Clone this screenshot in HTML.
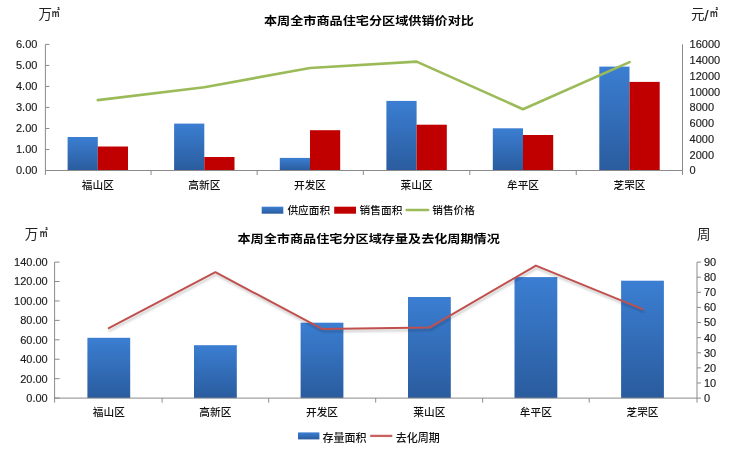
<!DOCTYPE html>
<html><head><meta charset="utf-8">
<style>
html,body{margin:0;padding:0;background:#fff;width:740px;height:450px;overflow:hidden}
svg{display:block;will-change:transform}
.n{font-family:"Liberation Sans", Arial, sans-serif;font-size:11px;fill:#1a1a1a;stroke:#1a1a1a;stroke-width:0.15px}
.c{font-family:"Liberation Sans", "Noto Sans CJK SC", sans-serif;font-size:10.7px;font-weight:500;fill:#111}
.t{font-family:"Liberation Sans", "Noto Sans CJK SC", sans-serif;font-size:13px;font-weight:700;fill:#000}
.u{font-family:"Liberation Sans", "Noto Sans CJK SC", sans-serif;font-size:13.5px;fill:#222}
.m{font-family:"Liberation Sans","Noto Sans CJK KR",sans-serif;font-size:11px;font-weight:700;fill:#333}
</style></head><body>
<svg width="740" height="450" viewBox="0 0 740 450">
<defs>
<linearGradient id="gb" x1="0" y1="0" x2="0" y2="1">
<stop offset="0" stop-color="#3b7ed2"/>
<stop offset="1" stop-color="#2a5c9e"/>
</linearGradient>
<filter id="sh" x="-5%" y="-20%" width="110%" height="140%"><feGaussianBlur stdDeviation="0.9"/></filter>
</defs>
<text transform="translate(264.0,24.9) scale(1.01,0.91)" class="t">本周全市商品住宅分区域供销价对比</text>
<text x="38.5" y="19" class="u">万</text><text transform="translate(51.6,17.2) scale(0.75,1.05)" class="m">㎡</text>
<text x="691" y="19" class="u">元</text><text x="704.2" y="20.5" class="n" style="font-size:15.5px;stroke-width:0.1px">/</text><text transform="translate(709.8,17.2) scale(0.75,1.05)" class="m">㎡</text>
<rect x="67.60" y="137.00" width="30.20" height="33.50" fill="url(#gb)"/>
<rect x="97.80" y="146.50" width="30.20" height="24.00" fill="#c00000"/>
<rect x="174.10" y="123.60" width="30.20" height="46.90" fill="url(#gb)"/>
<rect x="204.30" y="157.00" width="30.20" height="13.50" fill="#c00000"/>
<rect x="279.80" y="157.90" width="30.20" height="12.60" fill="url(#gb)"/>
<rect x="310.00" y="130.20" width="30.20" height="40.30" fill="#c00000"/>
<rect x="386.40" y="100.90" width="30.20" height="69.60" fill="url(#gb)"/>
<rect x="416.60" y="124.70" width="30.20" height="45.80" fill="#c00000"/>
<rect x="492.80" y="128.30" width="30.20" height="42.20" fill="url(#gb)"/>
<rect x="523.00" y="135.00" width="30.20" height="35.50" fill="#c00000"/>
<rect x="599.30" y="66.60" width="30.20" height="103.90" fill="url(#gb)"/>
<rect x="629.50" y="81.90" width="30.20" height="88.60" fill="#c00000"/>
<path d="M45.4 44.4V175.0M682.5 44.4V175.0M45.4 170.5H682.5" stroke="#8a8a8a" stroke-width="1" fill="none"/>
<text x="37.4" y="174.40" text-anchor="end" class="n">0.00</text>
<text x="37.4" y="153.38" text-anchor="end" class="n">1.00</text>
<text x="37.4" y="132.37" text-anchor="end" class="n">2.00</text>
<text x="37.4" y="111.35" text-anchor="end" class="n">3.00</text>
<text x="37.4" y="90.33" text-anchor="end" class="n">4.00</text>
<text x="37.4" y="69.32" text-anchor="end" class="n">5.00</text>
<text x="37.4" y="48.30" text-anchor="end" class="n">6.00</text>
<path d="M45.4 170.50h4M45.4 149.48h4M45.4 128.47h4M45.4 107.45h4M45.4 86.43h4M45.4 65.42h4M45.4 44.40h4M151.05 170.5v4.5M257.15 170.5v4.5M363.30 170.5v4.5M469.80 170.5v4.5M576.25 170.5v4.5" stroke="#8a8a8a" stroke-width="1" fill="none"/>
<text x="689.6" y="174.40" class="n">0</text>
<text x="689.6" y="158.64" class="n">2000</text>
<text x="689.6" y="142.88" class="n">4000</text>
<text x="689.6" y="127.11" class="n">6000</text>
<text x="689.6" y="111.35" class="n">8000</text>
<text x="689.6" y="95.59" class="n">10000</text>
<text x="689.6" y="79.83" class="n">12000</text>
<text x="689.6" y="64.06" class="n">14000</text>
<text x="689.6" y="48.30" class="n">16000</text>
<text x="97.80" y="188.6" text-anchor="middle" class="c">福山区</text>
<text x="204.30" y="188.6" text-anchor="middle" class="c">高新区</text>
<text x="310.00" y="188.6" text-anchor="middle" class="c">开发区</text>
<text x="416.60" y="188.6" text-anchor="middle" class="c">莱山区</text>
<text x="523.00" y="188.6" text-anchor="middle" class="c">牟平区</text>
<text x="629.50" y="188.6" text-anchor="middle" class="c">芝罘区</text>
<polyline points="97.80,100.10 204.30,87.20 310.00,68.00 416.60,61.60 523.00,109.20 629.50,62.10" fill="none" stroke="#9bbb59" stroke-width="2.6" stroke-linejoin="round" stroke-linecap="round"/>
<rect x="261.7" y="206.7" width="21.6" height="7" fill="url(#gb)"/>
<text x="287.4" y="214" class="c">供应面积</text>
<rect x="334.2" y="206.7" width="21.8" height="7" fill="#c00000"/>
<text x="359.6" y="214" class="c">销售面积</text>
<line x1="406.7" y1="210.05" x2="428.1" y2="210.05" stroke="#9bbb59" stroke-width="2.6" stroke-linecap="round"/>
<text x="432.2" y="214" class="c">销售价格</text>

<text transform="translate(237.5,243.4) scale(1.01,0.91)" class="t">本周全市商品住宅分区域存量及去化周期情况</text>
<text x="24.8" y="239" class="u">万</text><text transform="translate(39.4,237.2) scale(0.75,1.05)" class="m">㎡</text>
<text x="697" y="239" class="u">周</text>
<rect x="87.40" y="337.80" width="42.80" height="60.30" fill="url(#gb)"/>
<rect x="194.00" y="345.20" width="42.80" height="52.90" fill="url(#gb)"/>
<rect x="300.60" y="322.70" width="42.80" height="75.40" fill="url(#gb)"/>
<rect x="408.00" y="297.00" width="42.80" height="101.10" fill="url(#gb)"/>
<rect x="514.50" y="277.10" width="42.80" height="121.00" fill="url(#gb)"/>
<rect x="621.10" y="280.70" width="42.80" height="117.40" fill="url(#gb)"/>
<path d="M54.6 262.1V402.6M697.0 262.1V402.6M54.6 398.1H697.0" stroke="#8a8a8a" stroke-width="1" fill="none"/>
<text x="47.7" y="402.00" text-anchor="end" class="n">0.00</text>
<text x="47.7" y="382.57" text-anchor="end" class="n">20.00</text>
<text x="47.7" y="363.14" text-anchor="end" class="n">40.00</text>
<text x="47.7" y="343.71" text-anchor="end" class="n">60.00</text>
<text x="47.7" y="324.29" text-anchor="end" class="n">80.00</text>
<text x="47.7" y="304.86" text-anchor="end" class="n">100.00</text>
<text x="47.7" y="285.43" text-anchor="end" class="n">120.00</text>
<text x="47.7" y="266.00" text-anchor="end" class="n">140.00</text>
<text x="704" y="402.00" class="n">0</text>
<text x="704" y="386.89" class="n">10</text>
<text x="704" y="371.78" class="n">20</text>
<text x="704" y="356.67" class="n">30</text>
<text x="704" y="341.56" class="n">40</text>
<text x="704" y="326.44" class="n">50</text>
<text x="704" y="311.33" class="n">60</text>
<text x="704" y="296.22" class="n">70</text>
<text x="704" y="281.11" class="n">80</text>
<text x="704" y="266.00" class="n">90</text>
<path d="M54.6 398.10h5M54.6 378.67h5M54.6 359.24h5M54.6 339.81h5M54.6 320.39h5M54.6 300.96h5M54.6 281.53h5M54.6 262.10h5M697.0 398.10h4M697.0 382.99h4M697.0 367.88h4M697.0 352.77h4M697.0 337.66h4M697.0 322.54h4M697.0 307.43h4M697.0 292.32h4M697.0 277.21h4M697.0 262.10h4M162.10 398.1v4.5M268.70 398.1v4.5M375.70 398.1v4.5M482.65 398.1v4.5M589.20 398.1v4.5" stroke="#8a8a8a" stroke-width="1" fill="none"/>
<text x="108.80" y="415.8" text-anchor="middle" class="c">福山区</text>
<text x="215.40" y="415.8" text-anchor="middle" class="c">高新区</text>
<text x="322.00" y="415.8" text-anchor="middle" class="c">开发区</text>
<text x="429.40" y="415.8" text-anchor="middle" class="c">莱山区</text>
<text x="535.90" y="415.8" text-anchor="middle" class="c">牟平区</text>
<text x="642.50" y="415.8" text-anchor="middle" class="c">芝罘区</text>
<polyline points="108.80,328.20 215.40,272.20 322.00,328.90 429.40,327.60 535.90,265.60 642.50,309.10" fill="none" stroke="#000" stroke-opacity="0.2" stroke-width="2.2" stroke-linejoin="round" stroke-linecap="round" transform="translate(0.8,2.4)" filter="url(#sh)"/>
<polyline points="108.80,328.20 215.40,272.20 322.00,328.90 429.40,327.60 535.90,265.60 642.50,309.10" fill="none" stroke="#c0504d" stroke-width="2" stroke-linejoin="round" stroke-linecap="round"/>
<rect x="298" y="432.4" width="21.4" height="7" fill="url(#gb)"/>
<text x="322.6" y="441.5" class="c" style="font-size:11px">存量面积</text>
<line x1="370.2" y1="435.9" x2="392.3" y2="435.9" stroke="#c9625f" stroke-width="2.3"/>
<text x="395.7" y="441.5" class="c" style="font-size:11px">去化周期</text>
</svg>
</body></html>
